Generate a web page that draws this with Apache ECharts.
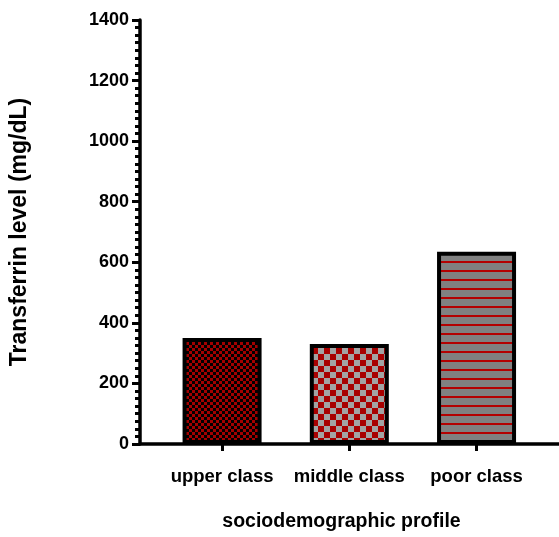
<!DOCTYPE html>
<html>
<head>
<meta charset="utf-8">
<script src="https://cdn.jsdelivr.net/npm/echarts@6/dist/echarts.min.js"></script>
<style>
  html, body { margin: 0; padding: 0; background: #fff; }
  #chart { width: 559px; height: 537px; }
</style>
</head>
<body>
<div id="chart"></div>
<script>
// Transferrin level by sociodemographic group
const categories = ['upper class', 'middle class', 'poor class'];
const transferrin = [350, 330, 635];
const yTicks = [0, 200, 400, 600, 800, 1000, 1200, 1400];

// Fill patterns for each bar
function checker(size, c1, c2) {
  const cv = document.createElement('canvas');
  cv.width = cv.height = size * 2;
  const g = cv.getContext('2d');
  g.fillStyle = c1; g.fillRect(0, 0, size * 2, size * 2);
  g.fillStyle = c2;
  g.fillRect(0, 0, size, size);
  g.fillRect(size, size, size, size);
  return cv;
}
function stripes(step, bg, line) {
  const cv = document.createElement('canvas');
  cv.width = 8; cv.height = step;
  const g = cv.getContext('2d');
  g.fillStyle = bg; g.fillRect(0, 0, 8, step);
  g.fillStyle = line; g.fillRect(0, 0, 8, 2);
  return cv;
}
const fills = [
  { image: checker(3, '#000000', '#a30000'), repeat: 'repeat' },
  { image: checker(6, '#a3a3a3', '#a80000'), repeat: 'repeat' },
  { image: stripes(9, '#808080', '#b40000'), repeat: 'repeat' }
];

const positions = categories.map((_, i) => i);
const font = '"Liberation Sans", Arial, sans-serif';

const chart = echarts.init(document.getElementById('chart'));
chart.setOption({
  animation: false,
  backgroundColor: '#ffffff',
  grid: { left: 140, right: 0, top: 20, bottom: 91, containLabel: false },
  xAxis: {
    type: 'value',
    min: -0.645,
    max: 2.648,
    name: 'sociodemographic profile',
    nameLocation: 'middle',
    nameGap: 68,
    nameTextStyle: { fontFamily: font, fontWeight: 'bold', fontSize: 19.5, color: '#000', padding: [0, 16, 0, 0] },
    splitLine: { show: false },
    axisLine: { show: true, onZero: false, lineStyle: { color: '#000', width: 3.5 } },
    axisTick: { show: true, customValues: positions, length: 7, lineStyle: { color: '#000', width: 3 } },
    axisLabel: {
      customValues: positions,
      formatter: v => categories[Math.round(v)],
      fontFamily: font, fontWeight: 'bold', fontSize: 18.5, color: '#000', margin: 23
    }
  },
  yAxis: {
    type: 'value',
    min: 0,
    max: 1400,
    interval: 200,
    name: 'Transferrin level (mg/dL)',
    nameLocation: 'middle',
    nameGap: 109,
    nameTextStyle: { fontFamily: font, fontWeight: 'bold', fontSize: 23, color: '#000' },
    splitLine: { show: false },
    axisLine: { show: true, onZero: false, lineStyle: { color: '#000', width: 3.5 } },
    axisTick: { show: true, length: 8, lineStyle: { color: '#000', width: 3 } },
    minorTick: { show: true, splitNumber: 8, length: 5, lineStyle: { color: '#000', width: 3 } },
    axisLabel: {
      customValues: yTicks,
      formatter: v => String(v),
      fontFamily: font, fontWeight: 'bold', fontSize: 18, color: '#000', margin: 11
    }
  },
  series: [{
    type: 'bar',
    barWidth: 79,
    data: transferrin.map((v, i) => ({
      value: [i, v],
      itemStyle: { color: fills[i], borderColor: '#000', borderWidth: 4 }
    }))
  }]
});
</script>
</body>
</html>
